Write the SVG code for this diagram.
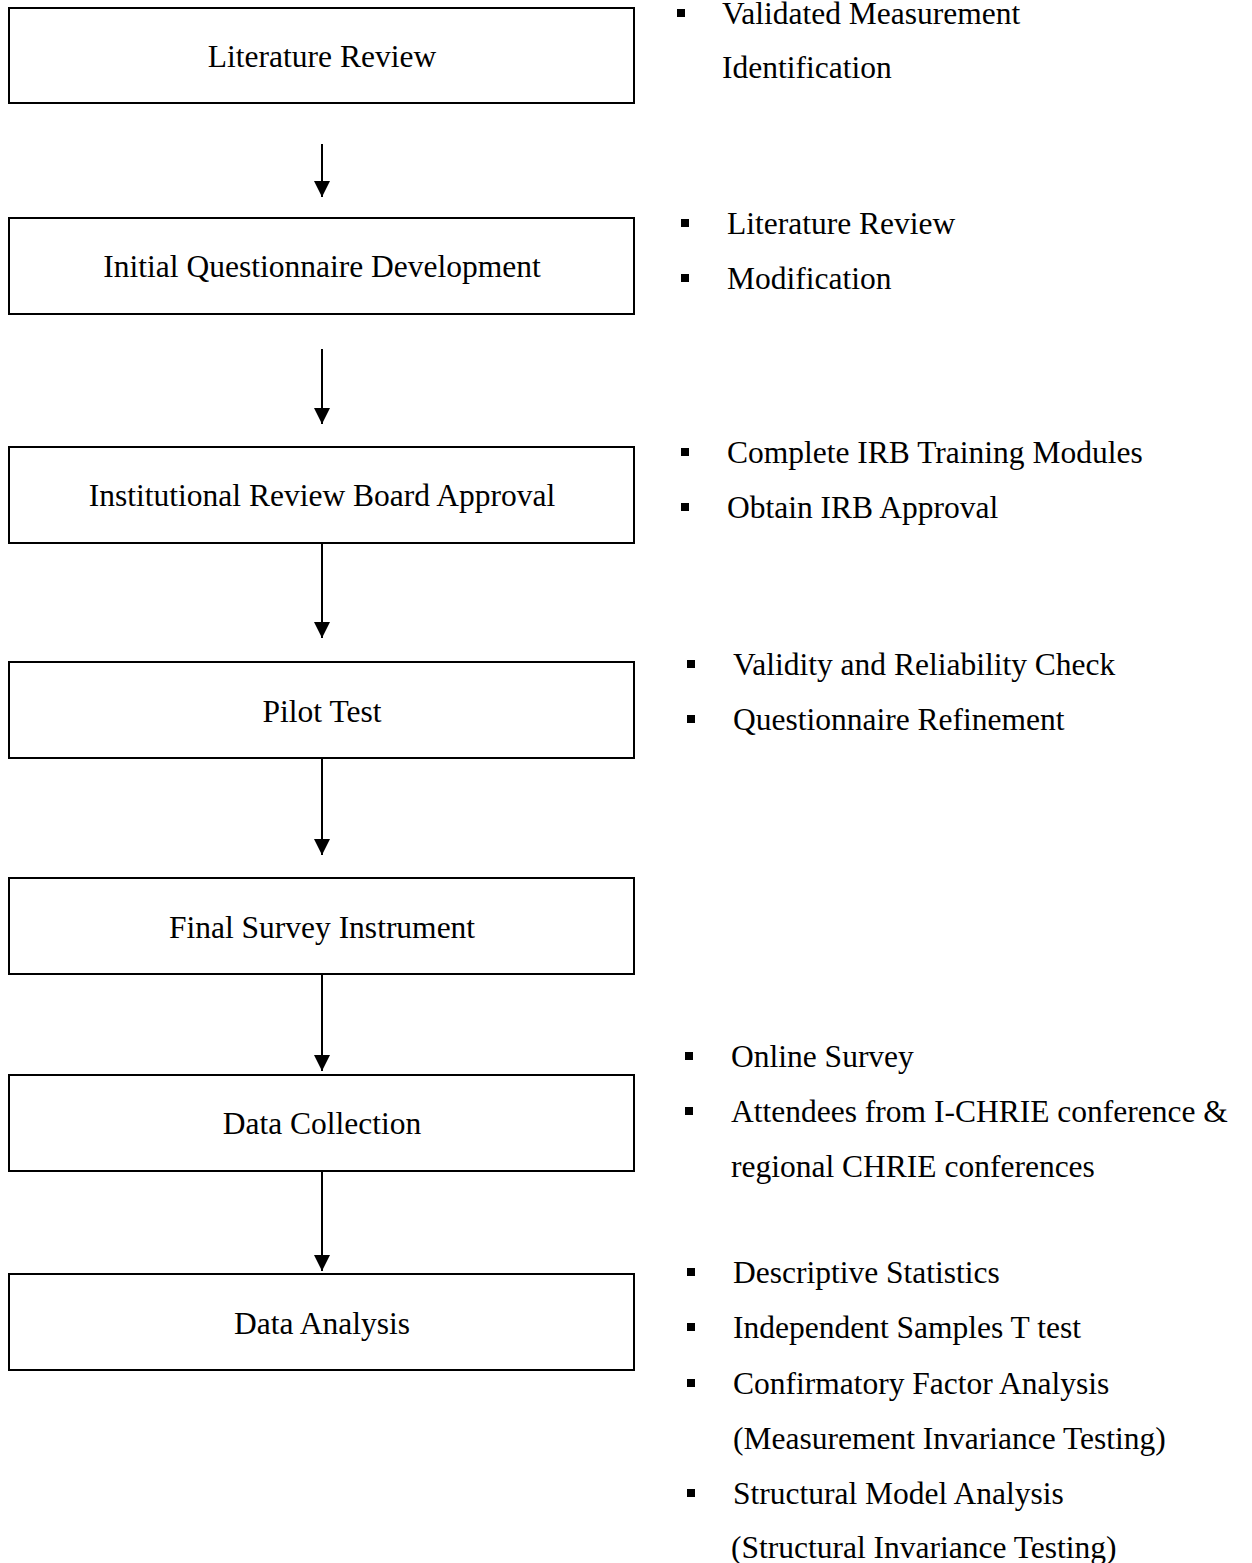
<svg xmlns="http://www.w3.org/2000/svg" width="1252" height="1563" viewBox="0 0 1252 1563">
<defs>
<style>
.box{fill:#fff;stroke:#000;stroke-width:2}
.t{font-family:"Liberation Serif","Times New Roman",serif;font-size:31.5px;fill:#000}
.c{text-anchor:middle}
.b{fill:#000}
.conn{stroke:#000;stroke-width:2;fill:none}
</style>
<marker id="ah" markerWidth="16" markerHeight="17" refX="16" refY="8" orient="auto" markerUnits="userSpaceOnUse" viewBox="0 0 16 17">
<path d="M0,0 L16,8 L0,16 Z" fill="#000"/>
</marker>
</defs>
<rect width="1252" height="1563" fill="#fff"/>
<g id="connectors">
<line class="conn" x1="322" y1="144" x2="322" y2="197" marker-end="url(#ah)"/>
<line class="conn" x1="322" y1="349" x2="322" y2="424" marker-end="url(#ah)"/>
<line class="conn" x1="322" y1="543" x2="322" y2="638" marker-end="url(#ah)"/>
<line class="conn" x1="322" y1="758" x2="322" y2="855" marker-end="url(#ah)"/>
<line class="conn" x1="322" y1="974" x2="322" y2="1071" marker-end="url(#ah)"/>
<line class="conn" x1="322" y1="1171" x2="322" y2="1271" marker-end="url(#ah)"/>
</g>
<g id="node-literature-review">
<rect class="box" x="9" y="8" width="625" height="95"/>
<text class="t c" x="322" y="67">Literature Review</text>
</g>
<g id="node-initial-questionnaire">
<rect class="box" x="9" y="218" width="625" height="96"/>
<text class="t c" x="322" y="277">Initial Questionnaire Development</text>
</g>
<g id="node-irb">
<rect class="box" x="9" y="447" width="625" height="96"/>
<text class="t c" x="322" y="506">Institutional Review Board Approval</text>
</g>
<g id="node-pilot">
<rect class="box" x="9" y="662" width="625" height="96"/>
<text class="t c" x="322" y="722">Pilot Test</text>
</g>
<g id="node-final">
<rect class="box" x="9" y="878" width="625" height="96"/>
<text class="t c" x="322" y="938">Final Survey Instrument</text>
</g>
<g id="node-collection">
<rect class="box" x="9" y="1075" width="625" height="96"/>
<text class="t c" x="322" y="1134">Data Collection</text>
</g>
<g id="node-analysis">
<rect class="box" x="9" y="1274" width="625" height="96"/>
<text class="t c" x="322" y="1334">Data Analysis</text>
</g>
<g id="notes-1">
<rect class="b" x="677" y="9" width="8" height="8"/>
<text class="t" x="722" y="24">Validated Measurement</text>
<text class="t" x="722" y="78">Identification</text>
</g>
<g id="notes-2">
<rect class="b" x="681" y="219" width="8" height="8"/>
<text class="t" x="727" y="234">Literature Review</text>
<rect class="b" x="681" y="274" width="8" height="8"/>
<text class="t" x="727" y="289">Modification</text>
</g>
<g id="notes-3">
<rect class="b" x="681" y="448" width="8" height="8"/>
<text class="t" x="727" y="463">Complete IRB Training Modules</text>
<rect class="b" x="681" y="503" width="8" height="8"/>
<text class="t" x="727" y="518">Obtain IRB Approval</text>
</g>
<g id="notes-4">
<rect class="b" x="687" y="660" width="8" height="8"/>
<text class="t" x="733" y="675">Validity and Reliability Check</text>
<rect class="b" x="687" y="715" width="8" height="8"/>
<text class="t" x="733" y="730">Questionnaire Refinement</text>
</g>
<g id="notes-6">
<rect class="b" x="685" y="1052" width="8" height="8"/>
<text class="t" x="731" y="1067">Online Survey</text>
<rect class="b" x="685" y="1107" width="8" height="8"/>
<text class="t" x="731" y="1122">Attendees from I-CHRIE conference &amp;</text>
<text class="t" x="731" y="1177">regional CHRIE conferences</text>
</g>
<g id="notes-7">
<rect class="b" x="687" y="1268" width="8" height="8"/>
<text class="t" x="733" y="1283">Descriptive Statistics</text>
<rect class="b" x="687" y="1323" width="8" height="8"/>
<text class="t" x="733" y="1338">Independent Samples T test</text>
<rect class="b" x="687" y="1379" width="8" height="8"/>
<text class="t" x="733" y="1394">Confirmatory Factor Analysis</text>
<text class="t" x="733" y="1449">(Measurement Invariance Testing)</text>
<rect class="b" x="687" y="1489" width="8" height="8"/>
<text class="t" x="733" y="1504">Structural Model Analysis</text>
<text class="t" x="731" y="1558">(Structural Invariance Testing)</text>
</g>
</svg>
